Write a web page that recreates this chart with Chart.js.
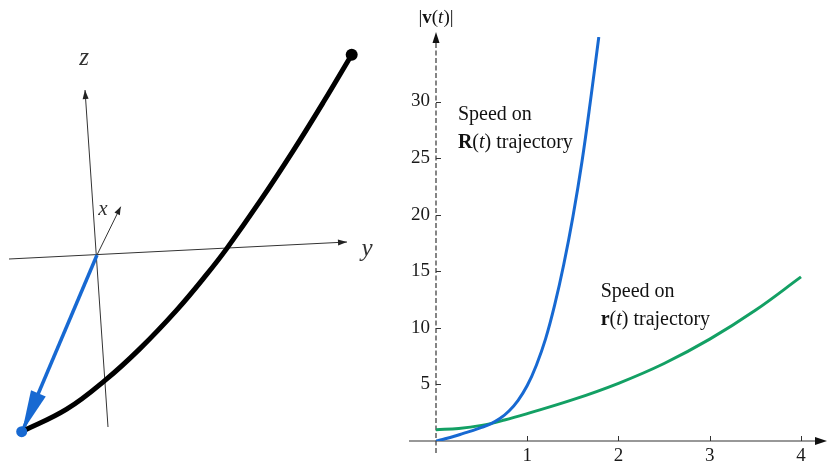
<!DOCTYPE html>
<html><head><meta charset="utf-8">
<script src="https://cdn.jsdelivr.net/npm/chart.js@4.4.1/dist/chart.umd.min.js"></script>
<style>
html,body{margin:0;padding:0;background:#fff;width:835px;height:463px;overflow:hidden}
#left{position:absolute;left:0;top:0;width:390px;height:463px}
#right{position:absolute;left:390px;top:0;width:445px;height:463px}
</style></head><body>
<div id="left"><canvas id="c1"></canvas></div>
<div id="right"><canvas id="c2"></canvas></div>
<script>
// ---------- right panel: speed curves ----------
const tR     = [0, 0.1, 0.2, 0.3, 0.4, 0.5, 0.6, 0.7, 0.8, 0.9, 1.0, 1.1, 1.2, 1.3, 1.4, 1.5, 1.6, 1.7, 1.784];
const speedR = [0, 0.2, 0.42, 0.67, 0.92, 1.2, 1.52, 1.98, 2.65, 3.6, 4.9, 6.7, 9.0, 12.0, 15.6, 19.8, 24.7, 30.5, 35.7];
const tr     = [0, 0.25, 0.5, 0.75, 1, 1.5, 2, 2.5, 3, 3.5, 4];
const speedr = [1.0, 1.1, 1.38, 1.85, 2.42, 3.65, 5.1, 6.85, 9.0, 11.55, 14.5];
const xTicks = [1, 2, 3, 4];
const yTicks = [5, 10, 15, 20, 25, 30];

// ---------- left panel: 3D sketch (projected sketch coordinates) ----------
const zAxisPts  = [[1.1, -17.2], [-1.2, 16.5]];
const yAxisPts  = [[-8.8, -0.4], [25.0, 1.3]];
const xAxisPts  = [[0, 0], [2.37, 4.83]];
const arrowPts  = [[0, 0], [-7.5, -17.7]];
const curvePts  = [[-7.53, -17.67], [-3.03, -15.42], [0.8, -12.54], [4.3, -9.36], [7.97, -5.51],
                   [10.97, -1.94], [12.97, 0.64], [16.3, 5.38], [19.63, 10.44], [22.63, 15.27], [25.47, 20.03]];

const toXY = a => a.map(p => ({x: p[0], y: p[1]}));
const zip = (xs, ys) => xs.map((x, i) => ({x: x, y: ys[i]}));

const SERIF = '"Liberation Serif", "DejaVu Serif", serif';
const BLUE = '#1769d2';
const GREEN = '#13a064';

function arrowHead(ctx, x0, y0, x1, y1, len, half, color) {
  const a = Math.atan2(y1 - y0, x1 - x0);
  const c = Math.cos(a), s = Math.sin(a);
  ctx.save();
  ctx.fillStyle = color;
  ctx.beginPath();
  ctx.moveTo(x1, y1);
  ctx.lineTo(x1 - len * c + half * s, y1 - len * s - half * c);
  ctx.lineTo(x1 - len * c - half * s, y1 - len * s + half * c);
  ctx.closePath();
  ctx.fill();
  ctx.restore();
}

function drawRich(ctx, x, y, segs, align) {
  ctx.save();
  ctx.textBaseline = 'alphabetic';
  let w = 0;
  segs.forEach(s => { ctx.font = s.font; w += ctx.measureText(s.text).width; });
  let cx = align === 'center' ? x - w / 2 : x;
  segs.forEach(s => {
    ctx.font = s.font;
    ctx.fillStyle = s.color || '#111';
    ctx.textAlign = 'left';
    ctx.fillText(s.text, cx, y);
    cx += ctx.measureText(s.text).width;
  });
  ctx.restore();
}

// ---------- left chart ----------
const sketchPlugin = {
  id: 'sketchDecor',
  afterDatasetsDraw(chart, args, opts) {
    const ctx = chart.ctx;
    chart.data.datasets.forEach((ds, i) => {
      if (!ds.arrow) return;
      const pts = chart.getDatasetMeta(i).data;
      const p0 = pts[pts.length - 2], p1 = pts[pts.length - 1];
      arrowHead(ctx, p0.x, p0.y, p1.x, p1.y, ds.arrow.len, ds.arrow.half, ds.arrow.color);
    });
    const xs = chart.scales.x, ys = chart.scales.y;
    (opts.labels || []).forEach(l => {
      ctx.save();
      ctx.font = l.font;
      ctx.fillStyle = '#333';
      ctx.textAlign = 'center';
      ctx.textBaseline = 'middle';
      ctx.fillText(l.text, xs.getPixelForValue(l.x), ys.getPixelForValue(l.y));
      ctx.restore();
    });
  }
};

new Chart(document.getElementById('c1'), {
  type: 'scatter',
  data: {
    datasets: [
      {label: 'z axis', data: toXY(zAxisPts), showLine: true, borderColor: '#333', borderWidth: 1, pointRadius: 0, order: 5,
       arrow: {len: 9, half: 3, color: '#222'}},
      {label: 'y axis', data: toXY(yAxisPts), showLine: true, borderColor: '#333', borderWidth: 1, pointRadius: 0, order: 5,
       arrow: {len: 9, half: 3, color: '#222'}},
      {label: 'x axis', data: toXY(xAxisPts), showLine: true, borderColor: '#333', borderWidth: 1, pointRadius: 0, order: 5,
       arrow: {len: 8, half: 3, color: '#222'}},
      {label: 'arrow', data: toXY(arrowPts), showLine: true, borderColor: BLUE, borderWidth: 3.5, pointRadius: 0, order: 4,
       arrow: {len: 42, half: 8, color: BLUE}},
      {label: 'curve', data: toXY(curvePts), showLine: true, borderColor: '#000', borderWidth: 5, pointRadius: 0,
       tension: 0.4, order: 3},
      {label: 'start', data: toXY([curvePts[0]]), pointRadius: 5.5, pointBackgroundColor: BLUE, pointBorderWidth: 0, order: 2},
      {label: 'end', data: toXY([curvePts[curvePts.length - 1]]), pointRadius: 6, pointBackgroundColor: '#000', pointBorderWidth: 0, order: 1}
    ]
  },
  options: {
    responsive: true, maintainAspectRatio: false, animation: false,
    layout: {padding: 0, autoPadding: false},
    clip: false,
    scales: {
      x: {type: 'linear', min: -9.7, max: 29.3, display: false},
      y: {type: 'linear', min: -20.8, max: 25.5, display: false}
    },
    plugins: {
      legend: {display: false}, tooltip: {enabled: false},
      sketchDecor: {labels: [
        {text: 'z', x: -1.3, y: 19.7, font: 'italic 25px ' + SERIF},
        {text: 'x', x: 0.6, y: 4.6, font: 'italic 21px ' + SERIF},
        {text: 'y', x: 27.0, y: 0.6, font: 'italic 25px ' + SERIF}
      ]}
    }
  },
  plugins: [sketchPlugin]
});

// ---------- right chart ----------
const axesPlugin = {
  id: 'axesDecor',
  beforeDatasetsDraw(chart) {
    const ctx = chart.ctx, xs = chart.scales.x, ys = chart.scales.y, ca = chart.chartArea;
    const x0 = xs.getPixelForValue(0), y0 = ys.getPixelForValue(0);
    ctx.save();
    // x axis
    ctx.strokeStyle = '#333'; ctx.lineWidth = 1.2;
    ctx.beginPath(); ctx.moveTo(x0 - 27, y0); ctx.lineTo(ca.right - 6, y0); ctx.stroke();
    arrowHead(ctx, x0, y0, ca.right, y0, 12, 4, '#111');
    // y axis (dashed)
    ctx.setLineDash([5, 2.5]);
    ctx.strokeStyle = '#444'; ctx.lineWidth = 1.3;
    ctx.beginPath(); ctx.moveTo(x0, y0 + 12); ctx.lineTo(x0, ca.top - 2); ctx.stroke();
    ctx.setLineDash([]);
    arrowHead(ctx, x0, y0, x0, ca.top - 5, 11, 3.5, '#111');
    // tick marks
    ctx.strokeStyle = '#333'; ctx.lineWidth = 1;
    xTicks.forEach(v => { const px = Math.round(xs.getPixelForValue(v)) + 0.5; ctx.beginPath(); ctx.moveTo(px, y0); ctx.lineTo(px, y0 - 5); ctx.stroke(); });
    yTicks.forEach(v => { const py = Math.round(ys.getPixelForValue(v)) + 0.5; ctx.beginPath(); ctx.moveTo(x0, py); ctx.lineTo(x0 + 5, py); ctx.stroke(); });
    ctx.restore();
  },
  afterDatasetsDraw(chart, args, opts) {
    const ctx = chart.ctx, xs = chart.scales.x, ys = chart.scales.y;
    (opts.notes || []).forEach(n => {
      drawRich(ctx, xs.getPixelForValue(n.x), ys.getPixelForValue(n.y), n.segs, n.align);
    });
    // y-axis title above the arrow
    drawRich(ctx, xs.getPixelForValue(0), 23, opts.title, 'center');
  }
};

const F = 20;
const norm = F + 'px ' + SERIF, bold = 'bold ' + F + 'px ' + SERIF, ital = 'italic ' + F + 'px ' + SERIF;
const T = 19;
const tnorm = T + 'px ' + SERIF, tbold = 'bold ' + T + 'px ' + SERIF, tital = 'italic ' + T + 'px ' + SERIF;

new Chart(document.getElementById('c2'), {
  type: 'scatter',
  data: {
    datasets: [
      {label: 'Speed on R(t) trajectory', data: zip(tR, speedR), showLine: true, borderColor: BLUE, borderWidth: 3,
       pointRadius: 0, tension: 0.4},
      {label: 'Speed on r(t) trajectory', data: zip(tr, speedr), showLine: true, borderColor: GREEN, borderWidth: 3,
       pointRadius: 0, tension: 0.4}
    ]
  },
  options: {
    responsive: true, maintainAspectRatio: false, animation: false,
    layout: {padding: {left: 0, right: 8, top: 37, bottom: 0}, autoPadding: false},
    scales: {
      x: {
        type: 'linear', min: 0, max: 4.285,
        afterBuildTicks: s => { s.ticks = xTicks.map(v => ({value: v})); },
        afterFit: s => { s.height = 22; },
        grid: {display: false, drawTicks: false}, border: {display: false},
        ticks: {color: '#1a1a1a', font: {family: SERIF, size: 19}, padding: 4, maxRotation: 0, autoSkip: false}
      },
      y: {
        type: 'linear', min: 0, max: 35.7,
        afterBuildTicks: s => { s.ticks = yTicks.map(v => ({value: v})); },
        afterFit: s => { s.width = 46; },
        grid: {display: false, drawTicks: false}, border: {display: false},
        ticks: {color: '#1a1a1a', font: {family: SERIF, size: 19}, padding: 6, autoSkip: false}
      }
    },
    plugins: {
      legend: {display: false}, tooltip: {enabled: false},
      axesDecor: {
        title: [{text: '|', font: tnorm}, {text: 'v', font: tbold}, {text: '(', font: tnorm}, {text: 't', font: tital},
                {text: ')|', font: tnorm}],
        notes: [
          {x: 0.24, y: 28.4, segs: [{text: 'Speed on', font: norm}]},
          {x: 0.24, y: 25.9, segs: [{text: 'R', font: bold}, {text: '(', font: norm}, {text: 't', font: ital}, {text: ') trajectory', font: norm}]},
          {x: 1.805, y: 12.7, segs: [{text: 'Speed on', font: norm}]},
          {x: 1.805, y: 10.25, segs: [{text: 'r', font: bold}, {text: '(', font: norm}, {text: 't', font: ital}, {text: ') trajectory', font: norm}]}
        ]
      }
    }
  },
  plugins: [axesPlugin]
});
</script>
</body></html>
